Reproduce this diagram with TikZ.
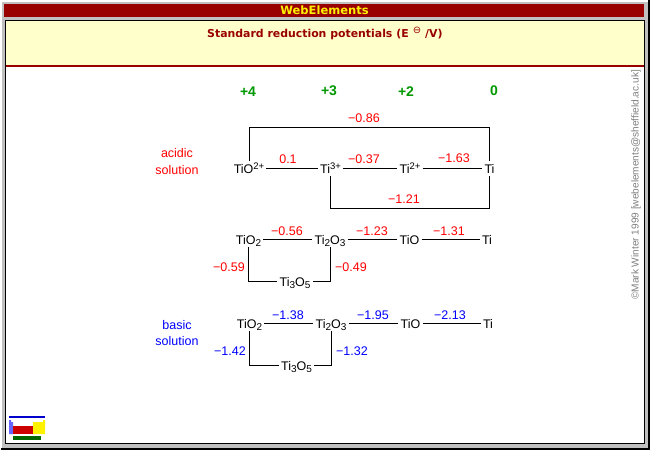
\documentclass[tikz,border=0pt]{standalone}
\usepackage{fontspec}
\setmainfont{Liberation Sans}
\newfontfamily\titlefont{DejaVu Sans}
\definecolor{wered}{RGB}{153,0,0}
\definecolor{wecream}{RGB}{255,255,204}
\definecolor{wegrey}{RGB}{192,192,192}
\definecolor{wegreen}{RGB}{0,153,0}
\definecolor{welogoblue}{RGB}{0,0,204}
\definecolor{welogolilac}{RGB}{102,102,255}
\definecolor{welogored}{RGB}{204,0,0}
\definecolor{welogogreen}{RGB}{0,102,0}
\newcommand{\Sp}[1]{\raisebox{4pt}{\fontsize{9.5}{9.5}\selectfont #1}}
\newcommand{\Sb}[1]{\raisebox{-2.5pt}{\fontsize{10}{10}\selectfont #1}}
\tikzset{
  species/.style={inner xsep=2pt,inner ysep=0pt,text height=12.3pt,text depth=2.7pt,font=\fontsize{12.5}{14}\selectfont,text=black},
  conn/.style={line width=1pt,black,line join=miter},
  redval/.style={inner sep=0pt,text=red,font=\fontsize{12.5}{14}\selectfont},
  blueval/.style={inner sep=0pt,text=blue,font=\fontsize{12.5}{14}\selectfont},
  oxstate/.style={inner sep=0pt,text=wegreen,font=\fontsize{14}{15}\selectfont\bfseries},
  caption/.style={inner sep=0pt,font=\fontsize{12.5}{14}\selectfont},
}
\begin{document}
\begin{tikzpicture}[x=1pt,y=-1pt]
\useasboundingbox (0,0) rectangle (650,450);
% window frame
\fill[wegrey] (0,0) rectangle (650,450);
\fill[white] (0,0) rectangle (650,1.5);
\fill[white] (0,0) rectangle (1.5,450);
\fill[black] (648,0) rectangle (650,450);
\fill[black] (1,448) rectangle (650,450);
\fill[wered] (4,4) rectangle (644,17);
\fill[black] (5,20) rectangle (645,444);
\fill[white] (6,21) rectangle (643.5,442.5);
\fill[wecream] (6,21) rectangle (643.5,65);
\fill[wered] (6,65) rectangle (643.5,67);
\node[inner sep=0pt,text=yellow,font=\titlefont\fontsize{11.5}{13}\selectfont\bfseries] (brand) at (324.5,10.5) {WebElements};
\node[inner sep=0pt,text=wered,font=\titlefont\fontsize{10.9}{13}\selectfont\bfseries,anchor=west] (head) at (207,34.5) {Standard reduction potentials (E};
\node[inner sep=0pt,text=wered,font=\titlefont\fontsize{10}{11}\selectfont,anchor=center] (plim) at (417,30) {⊖};
\node[inner sep=0pt,text=wered,font=\titlefont\fontsize{10.9}{13}\selectfont\bfseries,anchor=west] (unit) at (425,34.5) {/V)};
% oxidation states
\node[oxstate] (ox4) at (248,91.5) {+4};
\node[oxstate] (ox3) at (329,90.5) {+3};
\node[oxstate] (ox2) at (406,91.5) {+2};
\node[oxstate] (ox0) at (494,90.5) {0};
% captions
\node[caption,text=red] (ac1) at (177,153) {acidic};
\node[caption,text=red] (ac2) at (177,170) {solution};
\node[caption,text=blue] (ba1) at (177,325.5) {basic};
\node[caption,text=blue] (ba2) at (177,341.5) {solution};
% acidic row 1
\node[species] (a1) at (249,168.5) {TiO\Sp{2+}};
\node[species] (a2) at (330.5,168.5) {Ti\Sp{3+}};
\node[species] (a3) at (410,168.5) {Ti\Sp{2+}};
\node[species] (a4) at (489.5,168.5) {Ti};
\coordinate (atop) at (370,127.5);
\coordinate (abot) at (410,208.5);
\draw[conn] (a1) -- (a2);
\draw[conn] (a2) -- (a3);
\draw[conn] (a3) -- (a4);
\draw[conn] (a1.north) |- (atop) -| (a4.north);
\draw[conn] (a2.south) |- (abot) -| (a4.south);
\node[redval] (v1) at (364,118) {−0.86};
\node[redval] (v2) at (288,159) {0.1};
\node[redval] (v3) at (364,159) {−0.37};
\node[redval] (v4) at (454,158) {−1.63};
\node[redval] (v5) at (404,199) {−1.21};
% acidic row 2
\node[species] (b1) at (248.5,239.5) {TiO\Sb{2}};
\node[species] (b2) at (330,239.5) {Ti\Sb{2}O\Sb{3}};
\node[species] (b3) at (409.5,239.5) {TiO};
\node[species] (b4) at (487,239.5) {Ti};
\node[species] (b5) at (295,281.5) {Ti\Sb{3}O\Sb{5}};
\draw[conn] (b1) -- (b2);
\draw[conn] (b2) -- (b3);
\draw[conn] (b3) -- (b4);
\draw[conn] (b1.south) |- (b5);
\draw[conn] (b2.south) |- (b5);
\node[redval] (v6) at (287,231) {−0.56};
\node[redval] (v7) at (372,231) {−1.23};
\node[redval] (v8) at (449,231) {−1.31};
\node[redval] (v9) at (229,267) {−0.59};
\node[redval] (v10) at (351,267) {−0.49};
% basic row
\node[species] (c1) at (249.5,323.5) {TiO\Sb{2}};
\node[species] (c2) at (331,323.5) {Ti\Sb{2}O\Sb{3}};
\node[species] (c3) at (410.5,323.5) {TiO};
\node[species] (c4) at (488,323.5) {Ti};
\node[species] (c5) at (296.5,365.5) {Ti\Sb{3}O\Sb{5}};
\draw[conn] (c1) -- (c2);
\draw[conn] (c2) -- (c3);
\draw[conn] (c3) -- (c4);
\draw[conn] (c1.south) |- (c5);
\draw[conn] (c2.south) |- (c5);
\node[blueval] (w6) at (288,315) {−1.38};
\node[blueval] (w7) at (373,315) {−1.95};
\node[blueval] (w8) at (450,315) {−2.13};
\node[blueval] (w9) at (230,351) {−1.42};
\node[blueval] (w10) at (352,351) {−1.32};
% credit
\node[inner sep=0pt,rotate=90,text=gray,font=\fontsize{10.1}{12}\selectfont,anchor=west] (credit) at (636,300) {©Mark Winter 1999 [webelements@sheffield.ac.uk]};
% logo
\fill[welogoblue] (9,416) rectangle (45,418);
\fill[welogolilac] (9,420) -- (11,420) -- (11,422) -- (13,422) -- (13,434) -- (9,434) -- cycle;
\fill[welogored] (13,426) rectangle (33,434);
\fill[yellow] (33,422) -- (43,422) -- (43,420) -- (45,420) -- (45,434) -- (33,434) -- cycle;
\fill[welogogreen] (13,436) rectangle (41,440);
\end{tikzpicture}
\end{document}
